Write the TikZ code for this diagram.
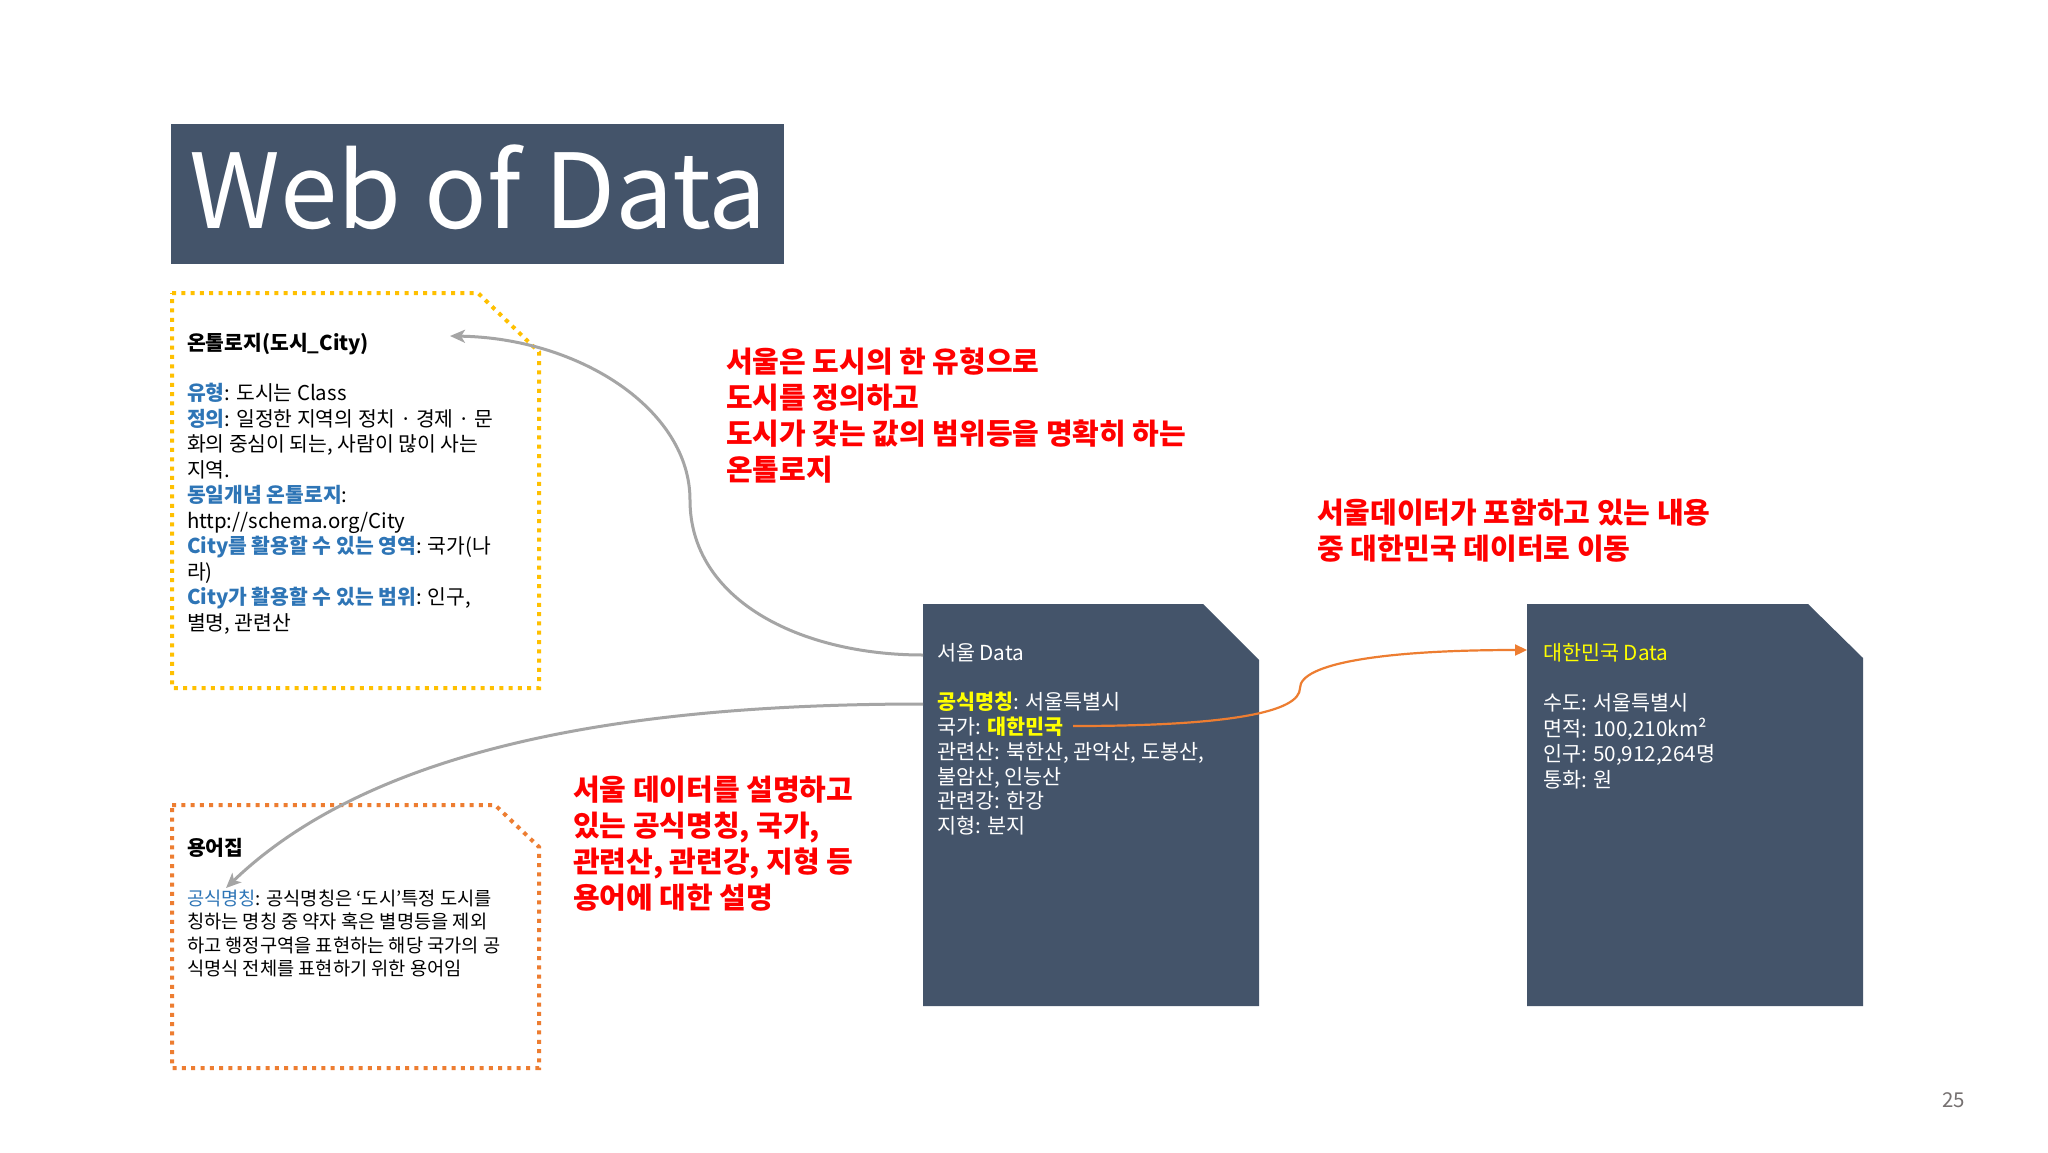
\documentclass[tikz,border=0pt]{standalone}
\usepackage{fontspec}
\setmainfont{Noto Sans CJK KR}
\usetikzlibrary{arrows.meta}
\definecolor{slate}{HTML}{44546A}
\definecolor{ored}{HTML}{FF0000}
\definecolor{oblue}{HTML}{2E75B6}
\definecolor{oyel}{HTML}{FFC000}
\definecolor{oorange}{HTML}{ED7D31}
\definecolor{hyel}{HTML}{FFFF00}
\definecolor{agray}{HTML}{A5A5A5}
\definecolor{pnum}{HTML}{767171}
\newcommand{\fsz}[2]{\fontsize{#1}{#2}\selectfont}
\newcommand{\firstrule}[1]{\rule{0pt}{#1}}
\newcommand{\lab}[1]{\textcolor{oblue}{\bfseries #1}}
\newcommand{\hl}[1]{\textcolor{hyel}{\bfseries #1}}
\begin{document}
\begin{tikzpicture}[x=1pt,y=-1pt,
  txtblock/.style={anchor=north west, inner sep=0pt, outer sep=0pt, align=left},
  darkbox/.style={fill=slate, draw=none},
  dotbox/.style={line width=4pt, dash pattern=on 4pt off 5.3pt},
  redtext/.style={txtblock, text=ored, font=\fsz{29}{36}\bfseries},
  grayarrow/.style={draw=agray, line width=3pt, -{Stealth[length=15pt,width=13pt,inset=4pt]}},
  orangearrow/.style={draw=oorange, line width=2.2pt, -{Triangle[length=12pt,width=11pt]}}
]
\useasboundingbox (0,0) rectangle (2048,1152);
\fill[white] (0,0) rectangle (2048,1152);

% title
\fill[slate] (171,124) rectangle (784,264);
\node[anchor=base west, inner sep=0pt, text=white, font=\fsz{103.5}{110}] (title) at (189,228) {Web of Data};

% ontology box (yellow dotted)
\draw[dotbox, draw=oyel] (172,293) -- (478,293) -- (539,352) -- (539,688) -- (172,688) -- cycle;
\node[txtblock, font=\fsz{20.4}{25.5}] (onto) at (187,329.75) {\firstrule{21pt}\textbf{온톨로지(도시\_City)}\\[24.5pt]
\lab{유형}: 도시는 Class\\
\lab{정의}: 일정한 지역의 정치 · 경제 · 문\\
화의 중심이 되는, 사람이 많이 사는\\
지역.\\
\lab{동일개념 온톨로지}:\\
http://schema.org/City\\
\lab{City를 활용할 수 있는 영역}: 국가(나\\
라)\\
\lab{City가 활용할 수 있는 범위}: 인구,\\
별명, 관련산};

% glossary box (orange dotted)
\draw[dotbox, draw=oorange] (172,805) -- (495,805) -- (539,847) -- (539,1068) -- (172,1068) -- cycle;
\node[txtblock, font=\fsz{20.4}{25.5}\bfseries] (glosstitle) at (187,834.75) {\firstrule{21pt}용어집};
\node[txtblock, font=\fsz{18.7}{23.3}] (gloss) at (187,886.4) {\firstrule{19pt}\textcolor{oblue}{공식명칭}: 공식명칭은 ‘도시’특정 도시를\\
칭하는 명칭 중 약자 혹은 별명등을 제외\\
하고 행정구역을 표현하는 해당 국가의 공\\
식명식 전체를 표현하기 위한 용어임};

% Seoul data box
\fill[darkbox] (923,604) -- (1203,604) -- (1259,660) -- (1259,1006) -- (923,1006) -- cycle;
\node[txtblock, text=white, font=\fsz{20.7}{24.7}] (seoul) at (937,639.9) {\firstrule{21pt}서울 Data\\[24.3pt]
\hl{공식명칭}: 서울특별시\\
국가: \hl{대한민국}\\
관련산: 북한산, 관악산, 도봉산,\\
불암산, 인능산\\
관련강: 한강\\
지형: 분지};

% Korea data box
\fill[darkbox] (1527,604) -- (1808,604) -- (1863,658) -- (1863,1006) -- (1527,1006) -- cycle;
\node[txtblock, text=white, font=\fsz{20.7}{25.5}] (korea) at (1543,639.9) {\firstrule{21pt}\textcolor{hyel}{대한민국 Data}\\[24.5pt]
수도: 서울특별시\\
면적: 100,210km²\\
인구: 50,912,264명\\
통화: 원};

% red annotations
\node[redtext] (note1) at (726,342) {\firstrule{30pt}서울은 도시의 한 유형으로\\
도시를 정의하고\\
도시가 갖는 값의 범위등을 명확히 하는\\
온톨로지};
\node[redtext] (note2) at (573,770) {\firstrule{30pt}서울 데이터를 설명하고\\
있는 공식명칭, 국가,\\
관련산, 관련강, 지형 등\\
용어에 대한 설명};
\node[redtext] (note3) at (1317,493) {\firstrule{30pt}서울데이터가 포함하고 있는 내용\\
중 대한민국 데이터로 이동};

% page number
\node[anchor=base west, inner sep=0pt, text=pnum, font=\fsz{20.5}{22}] (pagenum) at (1942,1107) {25};

% connector end points
\coordinate (seoulHead) at (923,655);
\coordinate (ontoTip) at (450,336);
\coordinate (ontoMid) at (690,500);
\coordinate (seoulName) at (923,704);
\coordinate (glossTip) at (226,888);
\coordinate (countryEnd) at (1073,726);
\coordinate (koreaMid) at (1300,688);
\coordinate (koreaTip) at (1527,650);

% connectors
\draw[grayarrow] (seoulHead) .. controls (800,655) and (690,600) .. (ontoMid)
  .. controls (690,410) and (580,338) .. (ontoTip);
\draw[grayarrow] (seoulName) .. controls (650,704) and (380,740) .. (glossTip);
\draw[orangearrow] (countryEnd) .. controls (1230,726) and (1300,712) .. (koreaMid)
  .. controls (1300,664) and (1380,650) .. (koreaTip);
\end{tikzpicture}
\end{document}
